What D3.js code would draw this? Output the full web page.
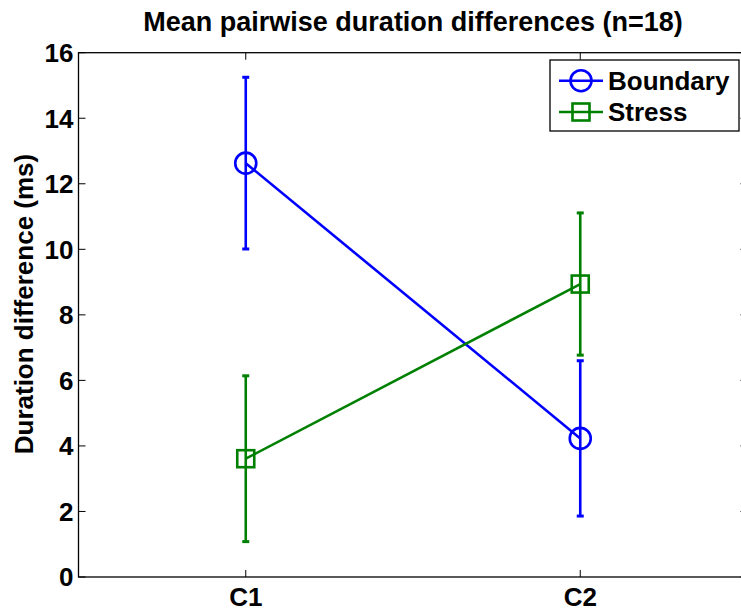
<!DOCTYPE html>
<html>
<head>
<meta charset="utf-8">
<script src="https://cdn.jsdelivr.net/npm/d3@7"></script>
<style>
  html, body { margin: 0; padding: 0; background: #fff; }
  svg { display: block; font-family: "Liberation Sans", Arial, sans-serif; font-weight: bold; }
</style>
</head>
<body>
<div id="chart"></div>
<script>
// chart data
const categories = ['C1', 'C2'];
const seriesNames = ['Boundary', 'Stress'];
const boundaryMean = [12.63, 4.23];
const boundaryErr = [2.62, 2.37];
const stressMean = [3.61, 8.94];
const stressErr = [2.53, 2.17];
const yTicks = [0, 2, 4, 6, 8, 10, 12, 14, 16];

const width = 741, height = 609;
const margin = { left: 78.5, top: 52.7, right: 747.5, bottom: 577 };

const svg = d3.select('#chart').append('svg')
  .attr('width', width)
  .attr('height', height);

const x = d3.scaleLinear().domain([0.5, 2.5]).range([margin.left, margin.right]);
const y = d3.scaleLinear().domain([0, 16]).range([margin.bottom, margin.top]);

// axes box
svg.append('rect')
  .attr('x', margin.left).attr('y', margin.top)
  .attr('width', margin.right - margin.left)
  .attr('height', margin.bottom - margin.top)
  .attr('fill', 'none').attr('stroke', '#000').attr('stroke-width', 1.3);

const tickLen = 7;
// y ticks (inward, both sides)
yTicks.forEach(t => {
  svg.append('line')
    .attr('x1', margin.left).attr('x2', margin.left + tickLen)
    .attr('y1', y(t)).attr('y2', y(t))
    .attr('stroke', '#000').attr('stroke-width', 1);
  svg.append('line')
    .attr('x1', margin.right).attr('x2', margin.right - tickLen)
    .attr('y1', y(t)).attr('y2', y(t))
    .attr('stroke', '#000').attr('stroke-width', 1);
  svg.append('text')
    .attr('x', margin.left - 5).attr('y', y(t))
    .attr('dy', '0.36em')
    .attr('text-anchor', 'end')
    .style('font-size', '26px')
    .text(t);
});

// x ticks (inward, top and bottom)
categories.forEach((c, i) => {
  svg.append('line')
    .attr('x1', x(i + 1)).attr('x2', x(i + 1))
    .attr('y1', margin.bottom).attr('y2', margin.bottom - tickLen)
    .attr('stroke', '#000').attr('stroke-width', 1);
  svg.append('line')
    .attr('x1', x(i + 1)).attr('x2', x(i + 1))
    .attr('y1', margin.top).attr('y2', margin.top + tickLen)
    .attr('stroke', '#000').attr('stroke-width', 1);
  svg.append('text')
    .attr('x', x(i + 1)).attr('y', 606)
    .attr('text-anchor', 'middle')
    .style('font-size', '26px')
    .text(c);
});

// title
svg.append('text')
  .attr('x', 413).attr('y', 31)
  .attr('text-anchor', 'middle')
  .style('font-size', '27px')
  .text('Mean pairwise duration differences (n=18)');

// y label
svg.append('text')
  .attr('transform', 'translate(33,304) rotate(-90)')
  .attr('text-anchor', 'middle')
  .style('font-size', '26px')
  .text('Duration difference (ms)');

const series = [
  { name: seriesNames[0], mean: boundaryMean, err: boundaryErr, color: '#0000ff', marker: 'circle' },
  { name: seriesNames[1], mean: stressMean, err: stressErr, color: '#008000', marker: 'square' }
];

function drawMarker(g, type, cx, cy, color) {
  if (type === 'circle') {
    g.append('circle')
      .attr('cx', cx).attr('cy', cy).attr('r', 10.5)
      .attr('fill', 'none').attr('stroke', color).attr('stroke-width', 2.6);
  } else {
    g.append('rect')
      .attr('x', cx - 8.5).attr('y', cy - 8.5)
      .attr('width', 17).attr('height', 17)
      .attr('fill', 'none').attr('stroke', color).attr('stroke-width', 2.6);
  }
}

const line = d3.line()
  .x((d, i) => x(i + 1))
  .y(d => y(d));

series.forEach(s => {
  const g = svg.append('g');
  // error bars
  s.mean.forEach((m, i) => {
    const cx = x(i + 1);
    g.append('line')
      .attr('x1', cx).attr('x2', cx)
      .attr('y1', y(m - s.err[i])).attr('y2', y(m + s.err[i]))
      .attr('stroke', s.color).attr('stroke-width', 2.6);
    [m - s.err[i], m + s.err[i]].forEach(v => {
      g.append('line')
        .attr('x1', cx - 3.5).attr('x2', cx + 3.5)
        .attr('y1', y(v)).attr('y2', y(v))
        .attr('stroke', s.color).attr('stroke-width', 3);
    });
  });
  g.append('path')
    .datum(s.mean)
    .attr('d', line)
    .attr('fill', 'none')
    .attr('stroke', s.color)
    .attr('stroke-width', 2.6);
  s.mean.forEach((m, i) => drawMarker(g, s.marker, x(i + 1), y(m), s.color));
});

// legend
const legend = svg.append('g').attr('class', 'legend');
legend.append('rect')
  .attr('x', 550).attr('y', 60)
  .attr('width', 189).attr('height', 71)
  .attr('fill', '#fff').attr('stroke', '#000').attr('stroke-width', 1.3);

series.forEach((s, i) => {
  const ly = 80.7 + i * 31.3;
  legend.append('line')
    .attr('x1', 559).attr('x2', 603)
    .attr('y1', ly).attr('y2', ly)
    .attr('stroke', s.color).attr('stroke-width', 2.6);
  drawMarker(legend, s.marker, 581, ly, s.color);
  legend.append('text')
    .attr('x', 608).attr('y', ly)
    .attr('dy', '0.36em')
    .style('font-size', '26px')
    .text(s.name);
});
</script>
</body>
</html>
